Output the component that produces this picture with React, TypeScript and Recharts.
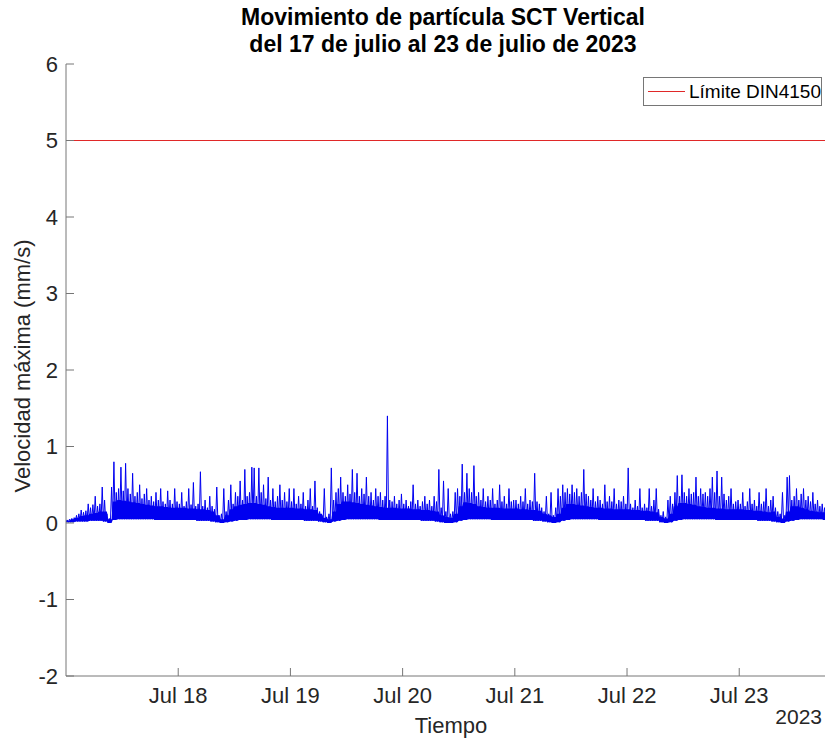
import React from 'react';
import { ComposedChart, Line, Area, XAxis, YAxis, ReferenceLine } from 'recharts';

// Horas desde el 17 de julio 00:00. Picos por media hora, banda densa y fondo por hora (mm/s)
const PICOS_JUL17 = [
  0.04, 0.05, 0.06, 0.07, 0.10, 0.12, 0.17, 0.14, 0.16, 0.25, 0.20, 0.24,
  0.35, 0.22, 0.25, 0.47, 0.30, 0.12, 0.06, 0.47, 0.80, 0.40, 0.45, 0.73,
  0.42, 0.78, 0.45, 0.38, 0.65, 0.35, 0.40, 0.50, 0.32, 0.38, 0.45, 0.30,
  0.35, 0.28, 0.40, 0.30, 0.45, 0.28, 0.25, 0.42, 0.30, 0.25, 0.45, 0.28
];
const PICOS_JUL18 = [
  0.25, 0.40, 0.22, 0.28, 0.45, 0.24, 0.53, 0.22, 0.25, 0.67, 0.22, 0.30,
  0.20, 0.35, 0.22, 0.18, 0.47, 0.10, 0.12, 0.45, 0.15, 0.30, 0.50, 0.25,
  0.40, 0.35, 0.55, 0.30, 0.70, 0.35, 0.40, 0.73, 0.72, 0.35, 0.72, 0.40,
  0.50, 0.32, 0.60, 0.30, 0.45, 0.28, 0.35, 0.50, 0.30, 0.40, 0.28, 0.45
];
const PICOS_JUL19 = [
  0.28, 0.45, 0.25, 0.35, 0.25, 0.40, 0.22, 0.30, 0.45, 0.22, 0.55, 0.20,
  0.15, 0.10, 0.45, 0.08, 0.12, 0.72, 0.30, 0.40, 0.45, 0.60, 0.40, 0.35,
  0.50, 0.38, 0.70, 0.40, 0.65, 0.35, 0.45, 0.38, 0.60, 0.35, 0.40, 0.30,
  0.45, 0.35, 0.40, 0.30, 0.35, 1.40, 0.30, 0.28, 0.35, 0.25, 0.30, 0.38
];
const PICOS_JUL20 = [
  0.25, 0.30, 0.22, 0.28, 0.50, 0.25, 0.30, 0.22, 0.28, 0.35, 0.25, 0.30,
  0.22, 0.35, 0.28, 0.70, 0.20, 0.55, 0.15, 0.45, 0.12, 0.15, 0.40, 0.45,
  0.35, 0.77, 0.40, 0.65, 0.45, 0.40, 0.75, 0.35, 0.40, 0.30, 0.45, 0.28,
  0.35, 0.30, 0.45, 0.25, 0.30, 0.50, 0.28, 0.35, 0.25, 0.45, 0.28, 0.30
];
const PICOS_JUL21 = [
  0.30, 0.25, 0.35, 0.28, 0.45, 0.25, 0.30, 0.28, 0.65, 0.28, 0.25, 0.20,
  0.15, 0.35, 0.12, 0.40, 0.10, 0.20, 0.45, 0.35, 0.50, 0.40, 0.45, 0.38,
  0.50, 0.40, 0.45, 0.35, 0.40, 0.70, 0.38, 0.35, 0.30, 0.45, 0.28, 0.35,
  0.30, 0.25, 0.50, 0.28, 0.35, 0.28, 0.45, 0.25, 0.30, 0.28, 0.35, 0.25
];
const PICOS_JUL22 = [
  0.72, 0.25, 0.20, 0.30, 0.22, 0.45, 0.20, 0.25, 0.20, 0.45, 0.22, 0.30,
  0.45, 0.18, 0.10, 0.15, 0.08, 0.30, 0.35, 0.25, 0.40, 0.62, 0.35, 0.63,
  0.40, 0.35, 0.45, 0.38, 0.40, 0.60, 0.35, 0.45, 0.38, 0.40, 0.35, 0.45,
  0.60, 0.40, 0.68, 0.35, 0.60, 0.38, 0.30, 0.35, 0.45, 0.25, 0.28, 0.30
];
const PICOS_JUL23 = [
  0.25, 0.40, 0.22, 0.28, 0.45, 0.25, 0.30, 0.22, 0.40, 0.25, 0.28, 0.45,
  0.22, 0.30, 0.35, 0.20, 0.15, 0.12, 0.40, 0.10, 0.60, 0.62, 0.30, 0.35,
  0.45, 0.30, 0.38, 0.45, 0.30, 0.35, 0.28, 0.40, 0.25, 0.30, 0.22, 0.25,
  0.20, 0.22, 0.18, 0.20, 0.18
];

const BANDA_JUL17 = [0.03, 0.05, 0.07, 0.09, 0.10, 0.12, 0.13, 0.15, 0.15, 0.05, 0.28, 0.30, 0.29, 0.28, 0.27, 0.26, 0.25, 0.24, 0.23, 0.22, 0.22, 0.21, 0.20, 0.20];
const BANDA_JUL18 = [0.20, 0.20, 0.19, 0.19, 0.18, 0.18, 0.17, 0.15, 0.10, 0.05, 0.10, 0.18, 0.22, 0.24, 0.25, 0.26, 0.26, 0.25, 0.24, 0.22, 0.21, 0.20, 0.20, 0.20];
const BANDA_JUL19 = [0.20, 0.19, 0.19, 0.18, 0.18, 0.17, 0.12, 0.07, 0.05, 0.15, 0.25, 0.28, 0.28, 0.27, 0.26, 0.25, 0.24, 0.23, 0.22, 0.21, 0.20, 0.20, 0.20, 0.19];
const BANDA_JUL20 = [0.19, 0.19, 0.18, 0.18, 0.17, 0.17, 0.16, 0.15, 0.10, 0.08, 0.07, 0.12, 0.22, 0.27, 0.26, 0.25, 0.22, 0.21, 0.20, 0.20, 0.20, 0.19, 0.19, 0.19];
const BANDA_JUL21 = [0.19, 0.18, 0.18, 0.17, 0.17, 0.16, 0.12, 0.10, 0.08, 0.12, 0.20, 0.25, 0.25, 0.24, 0.23, 0.22, 0.21, 0.20, 0.20, 0.19, 0.19, 0.18, 0.18, 0.18];
const BANDA_JUL22 = [0.18, 0.17, 0.17, 0.16, 0.16, 0.15, 0.14, 0.08, 0.06, 0.12, 0.22, 0.26, 0.26, 0.25, 0.24, 0.22, 0.21, 0.20, 0.20, 0.19, 0.19, 0.18, 0.18, 0.18];
const BANDA_JUL23 = [0.18, 0.17, 0.17, 0.16, 0.16, 0.15, 0.14, 0.15, 0.08, 0.06, 0.15, 0.22, 0.22, 0.20, 0.18, 0.16, 0.15, 0.14, 0.14, 0.13, 0.13];

const FONDO_JUL17 = [0.01, 0.01, 0.02, 0.02, 0.02, 0.03, 0.03, 0.03, 0.02, 0.00, 0.04, 0.05, 0.05, 0.05, 0.05, 0.05, 0.05, 0.05, 0.05, 0.04, 0.04, 0.04, 0.04, 0.04];
const FONDO_JUL18 = [0.04, 0.04, 0.04, 0.04, 0.03, 0.03, 0.03, 0.02, 0.01, 0.00, 0.01, 0.02, 0.03, 0.04, 0.04, 0.05, 0.05, 0.05, 0.05, 0.05, 0.04, 0.04, 0.04, 0.04];
const FONDO_JUL19 = [0.04, 0.04, 0.04, 0.03, 0.03, 0.03, 0.02, 0.01, 0.00, 0.02, 0.03, 0.04, 0.05, 0.05, 0.05, 0.05, 0.05, 0.05, 0.05, 0.04, 0.04, 0.04, 0.04, 0.04];
const FONDO_JUL20 = [0.04, 0.04, 0.04, 0.04, 0.03, 0.03, 0.03, 0.02, 0.01, 0.00, 0.00, 0.01, 0.03, 0.04, 0.05, 0.05, 0.05, 0.05, 0.05, 0.04, 0.04, 0.04, 0.04, 0.04];
const FONDO_JUL21 = [0.04, 0.04, 0.04, 0.04, 0.03, 0.03, 0.02, 0.01, 0.00, 0.01, 0.03, 0.04, 0.05, 0.05, 0.05, 0.05, 0.05, 0.05, 0.04, 0.04, 0.04, 0.04, 0.04, 0.04];
const FONDO_JUL22 = [0.04, 0.04, 0.04, 0.04, 0.03, 0.03, 0.03, 0.01, 0.00, 0.01, 0.03, 0.04, 0.05, 0.05, 0.05, 0.05, 0.05, 0.05, 0.05, 0.04, 0.04, 0.04, 0.04, 0.04];
const FONDO_JUL23 = [0.04, 0.04, 0.04, 0.04, 0.03, 0.03, 0.03, 0.02, 0.01, 0.00, 0.02, 0.03, 0.04, 0.05, 0.05, 0.05, 0.05, 0.05, 0.04, 0.04, 0.04];

const LIMITE_DIN4150 = 5;
const DIAS = ['Jul 18', 'Jul 19', 'Jul 20', 'Jul 21', 'Jul 22', 'Jul 23'];
const TICKS_X = [24, 48, 72, 96, 120, 144];
const TICKS_Y = [-2, -1, 0, 1, 2, 3, 4, 5, 6];
const X_MAX = 164.7;

const PICOS = [...PICOS_JUL17, ...PICOS_JUL18, ...PICOS_JUL19, ...PICOS_JUL20, ...PICOS_JUL21, ...PICOS_JUL22, ...PICOS_JUL23];
const BANDA = [...BANDA_JUL17, ...BANDA_JUL18, ...BANDA_JUL19, ...BANDA_JUL20, ...BANDA_JUL21, ...BANDA_JUL22, ...BANDA_JUL23];
const FONDO = [...FONDO_JUL17, ...FONDO_JUL18, ...FONDO_JUL19, ...FONDO_JUL20, ...FONDO_JUL21, ...FONDO_JUL22, ...FONDO_JUL23];

const AXIS = '#767676';
const TXT = '#262626';
const AZUL = '#0000f0';
const ROJO = '#e02828';
const FONT = '"Liberation Sans", Arial, sans-serif';

export default function App() {
  const data = React.useMemo(
    () =>
      PICOS.flatMap((pico, i) => {
        const t = i * 0.5;
        const h = Math.floor(t);
        return [
          { t, v: FONDO[h], lo: FONDO[h], banda: BANDA[h] },
          { t: t + 0.25, v: pico, lo: FONDO[h], banda: BANDA[h] }
        ];
      }),
    []
  );

  const tickStyle = { fill: TXT, fontSize: 22, fontFamily: FONT };

  return (
    <div style={{ position: 'fixed', left: 0, top: 0, width: 825, height: 743, overflow: 'hidden', background: '#fff', fontFamily: FONT }}>
      <ComposedChart width={850} height={743} data={data} margin={{ top: 64, right: 14, bottom: 27, left: 0 }}>
        <XAxis
          dataKey="t"
          type="number"
          domain={[0, X_MAX]}
          ticks={TICKS_X}
          tickFormatter={(t) => DIAS[Math.round(t / 24) - 1] ?? ''}
          allowDataOverflow
          height={40}
          tickSize={-8}
          tickMargin={19}
          tick={tickStyle}
          stroke={AXIS}
        />
        <XAxis
          xAxisId="top"
          orientation="top"
          dataKey="t"
          type="number"
          domain={[0, X_MAX]}
          ticks={TICKS_X}
          tickFormatter={() => ''}
          allowDataOverflow
          height={0}
          tickSize={-8}
          stroke={AXIS}
        />
        <YAxis
          type="number"
          domain={[-2, 6]}
          ticks={TICKS_Y}
          width={66}
          tickSize={-8}
          tickMargin={16}
          tick={tickStyle}
          stroke={AXIS}
          allowDataOverflow
        />
        <ReferenceLine y={LIMITE_DIN4150} stroke={ROJO} strokeWidth={1} />
        <Area
          type="linear"
          dataKey={(d: any) => [d.lo, d.banda]}
          fill={AZUL}
          fillOpacity={1}
          stroke="none"
          isAnimationActive={false}
        />
        <Line
          type="linear"
          dataKey="v"
          stroke={AZUL}
          strokeWidth={1}
          dot={false}
          isAnimationActive={false}
        />
      </ComposedChart>

      <div style={{ position: 'absolute', left: 0, width: 886, top: 4, textAlign: 'center', fontWeight: 'bold', fontSize: 23, lineHeight: '27px', color: '#000' }}>
        <div>Movimiento de partícula SCT Vertical</div>
        <div>del 17 de julio al 23 de julio de 2023</div>
      </div>

      <div
        style={{
          position: 'absolute',
          left: 23,
          top: 366,
          transform: 'translate(-50%, -50%) rotate(-90deg)',
          whiteSpace: 'nowrap',
          fontSize: 22,
          lineHeight: '22px',
          color: TXT
        }}
      >
        Velocidad máxima (mm/s)
      </div>

      <div style={{ position: 'absolute', left: 351, width: 200, top: 715, textAlign: 'center', fontSize: 22, lineHeight: '22px', color: TXT }}>
        Tiempo
      </div>

      <div style={{ position: 'absolute', right: 3, top: 706, fontSize: 21, lineHeight: '21px', color: TXT }}>
        2023
      </div>

      <div
        style={{
          position: 'absolute',
          left: 643,
          top: 77,
          width: 179,
          height: 29,
          boxSizing: 'border-box',
          border: `1px solid ${AXIS}`,
          background: '#fff',
          display: 'flex',
          alignItems: 'center'
        }}
      >
        <div style={{ width: 38, height: 1, background: ROJO, marginLeft: 4, marginRight: 4 }} />
        <span style={{ fontSize: 19, color: '#000', whiteSpace: 'nowrap' }}>Límite DIN4150</span>
      </div>
    </div>
  );
}
